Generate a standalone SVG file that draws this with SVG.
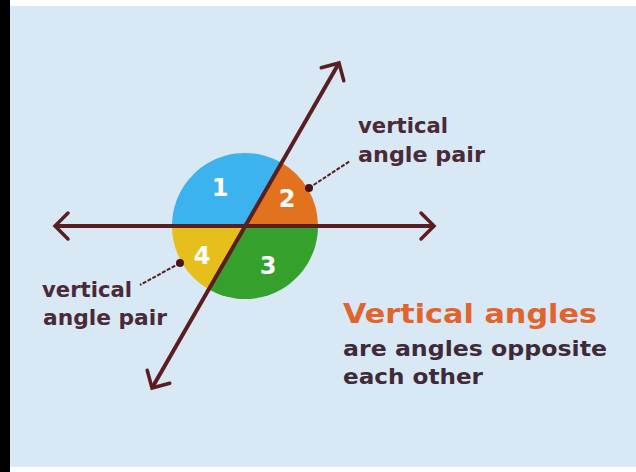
<svg xmlns="http://www.w3.org/2000/svg" width="636" height="472" viewBox="0 0 636 472">
  <style>
    .ln { stroke: #5a1e22; stroke-width: 4; fill: none; stroke-linecap: butt; }
    .lead { stroke: #5a1e22; stroke-width: 2; fill: none; stroke-dasharray: 4 1.5; }
    .num { font-family: "DejaVu Sans", "Liberation Sans", sans-serif; font-size: 24px; font-weight: bold; fill: #ffffff; text-anchor: middle; }
    .lbl { font-family: "DejaVu Sans", "Liberation Sans", sans-serif; font-size: 21px; font-weight: bold; fill: #4a2a36; }
    .head { font-family: "DejaVu Sans", "Liberation Sans", sans-serif; font-size: 27px; fill: #e0642c; font-weight: bold; }
    .body { font-family: "DejaVu Sans", "Liberation Sans", sans-serif; font-size: 22px; font-weight: bold; fill: #3f2a38; }
  </style>
  <defs>
    <marker id="chev" markerUnits="userSpaceOnUse" markerWidth="32" markerHeight="32" viewBox="-17 -16 22 32" refX="0" refY="0" orient="auto-start-reverse">
      <path d="M -13,-13 L 0,0 L -13,13" fill="none" stroke="#5a1e22" stroke-width="3.5" stroke-linejoin="miter" stroke-linecap="round"/>
    </marker>
  </defs>
  <rect x="0" y="0" width="636" height="472" fill="#ffffff"/>
  <rect x="10" y="6" width="626" height="461" fill="#d8e9f5"/>
  <rect x="0" y="0" width="10" height="472" fill="#000000"/>

  <g id="circle">
    <path d="M245,226 L172,226 A73,73 0 0 1 281.4,162.7 Z" fill="#3cb3ef"/>
    <path d="M245,226 L281.4,162.7 A73,73 0 0 1 318,226 Z" fill="#e2721e"/>
    <path d="M245,226 L318,226 A73,73 0 0 1 208.6,289.3 Z" fill="#35a02c"/>
    <path d="M245,226 L208.6,289.3 A73,73 0 0 1 172,226 Z" fill="#e6bf1c"/>
    <text class="num" x="220" y="196">1</text>
    <text class="num" x="287" y="207">2</text>
    <text class="num" x="268" y="274">3</text>
    <text class="num" x="202" y="264">4</text>
  </g>

  <g id="connectors">
    <line class="ln" x1="55" y1="226" x2="434" y2="226" marker-start="url(#chev)" marker-end="url(#chev)"/>
    <line class="ln" x1="152" y1="388" x2="339" y2="63" marker-start="url(#chev)" marker-end="url(#chev)"/>
    <line class="lead" x1="309" y1="188" x2="350" y2="161"/>
    <line class="lead" x1="180" y1="263" x2="140" y2="285"/>
    <circle cx="309" cy="188" r="4" fill="#4a1416"/>
    <circle cx="180" cy="263" r="4" fill="#4a1416"/>
  </g>

  <g id="label-top">
    <text class="lbl" x="358" y="133" textLength="90" lengthAdjust="spacingAndGlyphs">vertical</text>
    <text class="lbl" x="358" y="162" textLength="127" lengthAdjust="spacingAndGlyphs">angle pair</text>
  </g>
  <g id="label-left">
    <text class="lbl" x="42" y="297" textLength="90" lengthAdjust="spacingAndGlyphs">vertical</text>
    <text class="lbl" x="43" y="325" textLength="124" lengthAdjust="spacingAndGlyphs">angle pair</text>
  </g>
  <g id="caption">
    <text class="head" x="343" y="323" textLength="254" lengthAdjust="spacingAndGlyphs">Vertical angles</text>
    <text class="body" x="343" y="356" textLength="264" lengthAdjust="spacingAndGlyphs">are angles opposite</text>
    <text class="body" x="343" y="384" textLength="140" lengthAdjust="spacingAndGlyphs">each other</text>
  </g>
</svg>
